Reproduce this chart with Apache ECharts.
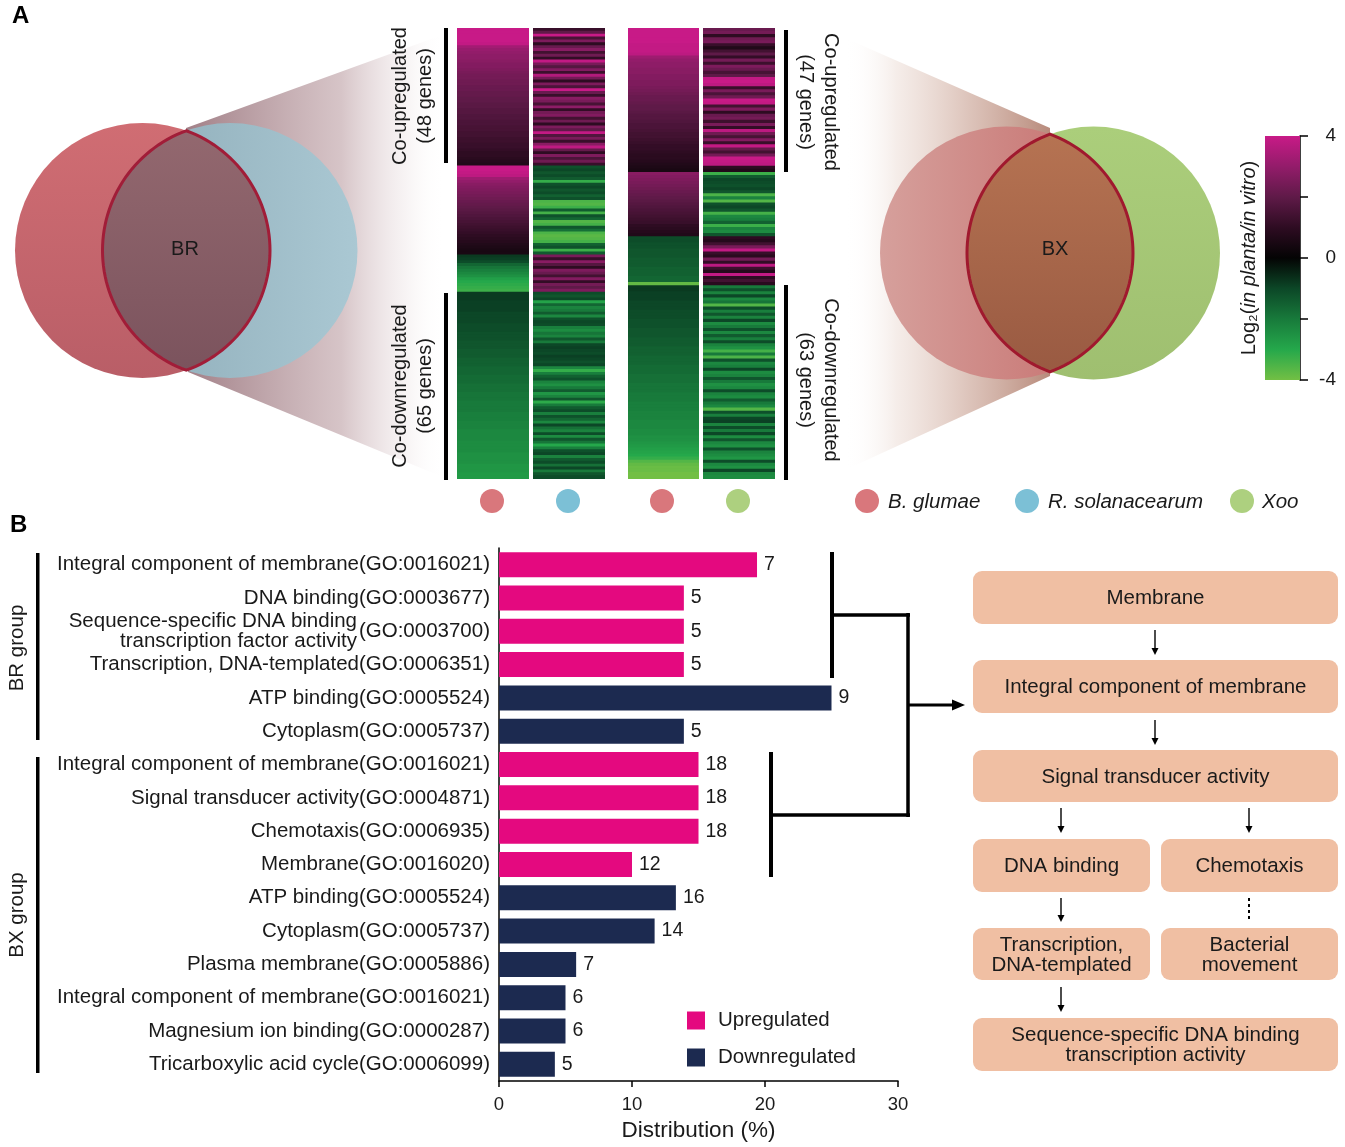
<!DOCTYPE html>
<html><head><meta charset="utf-8">
<script src="https://cdn.jsdelivr.net/npm/echarts@6/dist/echarts.min.js"></script>
<style>html,body{margin:0;padding:0;background:#fff}#c{width:1345px;height:1147px}</style>
</head><body><div id="c"></div>
<script>
// ---------------- DATA ----------------
// Heatmap rows, log2(in planta / in vitro). Segments: co-up | Bg up/other down | Bg down/other up | co-down
const brSegments = [48, 31, 13, 65];
const brGlumae = [
  4.3,4.2,4.1,4.0,4.0,3.9, 3.3,3.1,3.0,2.9,2.9,2.8,2.7,2.7,2.6, 2.5,2.4,2.4,2.3,2.3,2.2,2.2,2.1,2.1,2.0,
  2.0,1.9,1.9,1.8,1.8,1.7,1.7,1.6,1.6,1.5, 1.5,1.4,1.4,1.3,1.3,1.2,1.2,1.1,1.0,1.0, 0.9,0.8,0.7,
  4.2,4.0,3.9,3.8, 3.2,3.0,2.8,2.7,2.6,2.5, 2.4,2.3,2.2,2.1,2.0,1.9,1.8,1.7,1.6,1.5,
  1.4,1.3,1.2,1.1,1.0,0.9,0.8,0.7,0.6,0.5,0.5,
  -0.8,-0.9,-1.1,-1.6,-1.9,-2.1,-2.3,-2.5,-2.8,-3.0,-3.1,-3.2,-3.3,
  -0.8,-0.8,-0.8,-0.9,-0.9,-0.9,-0.9,-1.0,-1.0,-1.0, -1.0,-1.1,-1.1,-1.1,-1.2,-1.2,-1.2,-1.3,-1.3,-1.3,
  -1.4,-1.4,-1.4,-1.5,-1.5,-1.5,-1.6,-1.6,-1.6,-1.7, -1.7,-1.7,-1.8,-1.8,-1.8,-1.9,-1.9,-1.9,-2.0,-2.0,
  -2.0,-2.0,-2.1,-2.1,-2.1,-2.2,-2.2,-2.2,-2.3,-2.3, -2.3,-2.3,-2.4,-2.4,-2.4,-2.4,-2.5,-2.5,-2.5,-2.5,
  -2.6,-2.6,-2.6,-2.7,-2.7
];
const brRsol = [
  1.2,2.0,4.0,1.5,2.6,1.0,2.2,2.8,1.4,2.3, 1.1,3.9,2.5,1.8,2.7,1.3,3.6,2.4,1.0,2.6,
  1.6,4.0,2.2,1.2,2.8,2.5,1.5,2.9,1.1,2.4, 2.7,1.4,2.3,1.0,2.6,2.0,3.9,1.7,2.5,1.2,
  2.8,3.8,2.1,1.0,2.6,1.6,2.3,1.2,
  -1.2,-1.0,-1.3,-1.1,-1.4,-3.2,-1.2,-1.0,-1.3,-1.1, -1.5,-1.2,-3.5,-3.6,-3.3,-1.4,-3.4,-1.2,-1.6,-3.6,
  -3.4,-1.3,-1.8,-3.5,-3.7,-3.6,-3.4,-1.5,-1.2,-3.3,-1.4,
  2.5,1.2,2.8,1.8,1.0,2.6,2.2,1.4,2.7,1.1,2.4,2.0,2.6,
  -1.1,-1.3,-1.0,-2.9,-1.6,-2.2,-2.0,-1.4,-2.3,-1.2, -1.0,-1.1,-2.1,-2.4,-1.9,-2.2,-1.3,-2.0,-1.0,-0.9,
  -1.0,-1.1,-0.9,-1.0,-1.2,-1.0,-2.3,-3.2,-2.1,-1.5, -1.2,-2.2,-2.5,-2.0,-1.4,-2.6,-2.2,-1.3,-3.1,-2.0,
  -1.4,-1.1,-2.1,-1.2,-1.6,-2.3,-1.0,-1.8,-2.2,-1.1, -2.4,-1.3,-1.9,-3.0,-2.1,-1.2,-1.0,-2.2,-1.4,-1.1,
  -1.8,-1.0,-2.0,-1.3,-1.1
];
const bxSegments = [47, 21, 16, 63];
const bxGlumae = [
  4.2,4.1,4.1,4.0,4.0,3.9,3.9,3.9,3.8, 3.2,3.0,2.9,2.9,2.8,2.8,2.7,2.7,2.6,2.6,
  2.5,2.4,2.3,2.2,2.2,2.1,2.0,2.0,1.9,1.8, 1.8,1.7,1.6,1.6,1.5,1.4,1.4,1.3,1.2,1.1,
  1.1,1.0,0.9,0.9,0.8,0.7,0.6,0.5,
  2.8,2.7,2.6,2.5,2.4,2.3,2.2,2.1,2.0,1.9, 1.8,1.7,1.6,1.5,1.4,1.3,1.2,1.0,0.9,0.8,0.7,
  -1.1,-1.1,-1.2,-1.2,-1.3,-1.3,-1.3,-1.4,-1.4,-1.4,-1.5,-1.5,-1.5,-1.6,-1.6,-3.8,
  -0.8,-0.8,-0.9,-0.9,-0.9,-1.0,-1.0,-1.0,-1.1,-1.1, -1.1,-1.2,-1.2,-1.2,-1.3,-1.3,-1.3,-1.4,-1.4,-1.4,
  -1.5,-1.5,-1.5,-1.6,-1.6,-1.6,-1.7,-1.7,-1.7,-1.8, -1.8,-1.8,-1.9,-1.9,-1.9,-2.0,-2.0,-2.0,-2.1,-2.1,
  -2.1,-2.2,-2.2,-2.2,-2.3,-2.3,-2.3,-2.4,-2.4,-2.5, -2.5,-2.6,-2.7,-2.8,-2.9,-3.0,-3.2,-3.6,-3.8,-3.9,
  -3.9,-4.0,-4.0
];
const bxXoo = [
  2.2,2.4,1.0,2.3,2.5,1.2,0.7,1.4,2.0,1.1, 2.4,1.3,2.6,2.2,1.5,2.0,3.9,4.0,3.8,1.2,
  2.5,1.6,2.3,4.0,3.9,1.4,2.6,1.0,2.2,2.4, 1.3,2.5,1.1,3.8,2.3,1.5,2.7,1.2,3.9,2.1,
  1.4,2.4,4.0,3.9,3.8,1.0,0.7,
  -3.3,-1.4,-1.0,-1.1,-1.2,-1.0,-1.3,-3.5,-2.2,-3.6, -1.2,-1.0,-1.3,-3.4,-2.3,-2.1,-1.5,-3.3,-2.2,-2.4,-1.3,
  1.0,0.8,1.4,2.5,3.9,1.2,0.9,2.4,1.1,3.8,1.3,0.8,3.9,1.0,1.4,0.9,
  -2.0,-1.2,-2.2,-1.0,-2.3,-1.9,-3.6,-1.1,-2.1,-1.3, -2.2,-1.0,-2.4,-2.0,-1.2,-2.3,-1.4,-2.1,-1.1,-2.2,
  -2.5,-3.4,-2.0,-3.5,-1.2,-2.3,-2.1,-1.0,-2.4,-2.2, -1.3,-2.0,-2.5,-2.3,-1.1,-2.2,-2.4,-1.4,-2.0,-2.3,
  -3.6,-1.2,-2.1,-1.0,-0.9,-2.2,-1.1,-2.0,-1.0,-2.4, -1.3,-2.3,-2.5,-1.2,-2.2,-2.4,-2.6,-1.1,-2.3,-2.5,
  -1.0,-2.3,-2.4
];
const colorbarTicks = [4, 0, -4];

// GO enrichment bars
const goTerms = [
  'Integral component of membrane(GO:0016021)','DNA binding(GO:0003677)',
  'Sequence-specific DNA binding\ntranscription factor activity(GO:0003700)',
  'Transcription, DNA-templated(GO:0006351)','ATP binding(GO:0005524)','Cytoplasm(GO:0005737)',
  'Integral component of membrane(GO:0016021)','Signal transducer activity(GO:0004871)',
  'Chemotaxis(GO:0006935)','Membrane(GO:0016020)','ATP binding(GO:0005524)','Cytoplasm(GO:0005737)',
  'Plasma membrane(GO:0005886)','Integral component of membrane(GO:0016021)',
  'Magnesium ion binding(GO:0000287)','Tricarboxylic acid cycle(GO:0006099)'
];
const distribution = [19.4,13.9,13.9,13.9,25.0,13.9,15.0,15.0,15.0,10.0,13.3,11.7,5.8,5.0,5.0,4.2];
const geneCounts = [7,5,5,5,9,5,18,18,18,12,16,14,7,6,6,5];
const regulation = ['up','up','up','up','down','down','up','up','up','up','down','down','down','down','down','down'];
const xTicks = [0, 30, 10];

// flowchart
const flowBoxes = ['Membrane','Integral component of membrane','Signal transducer activity','DNA binding','Chemotaxis',
  'Transcription,\nDNA-templated','Bacterial\nmovement','Sequence-specific DNA binding\ntranscription activity'];

// ---------------- CHART ----------------
const F = "'Liberation Sans', Arial, Helvetica, sans-serif";
const TXT = '#1a1a1a';
const PINK = '#e4097f', NAVY = '#1c2a50';
const HM_COLORS = ['#72bf44','#25a84b','#187a3b','#0c4727','#040404','#2e0c22','#5f1a48','#931c6a','#c81a87'];

const chart = echarts.init(document.getElementById('c'), null, {width:1345, height:1147});

const hmCols = [
  {data: brGlumae, left: 457, width: 72},
  {data: brRsol,   left: 533, width: 72},
  {data: bxGlumae, left: 628, width: 71},
  {data: bxXoo,    left: 703, width: 72}
];
const grids = [], xAxes = [], yAxes = [], series = [];
function renderCell(params, api) {
  const c = api.coord([api.value(0), api.value(1)]);
  const s = api.size([1, 1]);
  return {type:'rect', shape:{x:c[0] - s[0] / 2, y:c[1] - s[1] / 2, width:s[0], height:s[1] + 0.9},
    style:{fill:api.visual('color')}};
}
hmCols.forEach((c, k) => {
  grids.push({left: c.left, top: 28, width: c.width, height: 450});
  xAxes.push({type:'category', gridIndex:k, data:['g'], show:false});
  yAxes.push({type:'category', gridIndex:k, data:c.data.map((_, i) => i), inverse:true, show:false});
  series.push({type:'custom', xAxisIndex:k, yAxisIndex:k, renderItem:renderCell, clip:false,
    data:c.data.map((v, i) => [0, i, v]), encode:{x:0, y:1}, silent:true});
});
// colorbar axis grid (4)
grids.push({left: 1265, top: 136, width: 35, height: 244});
xAxes.push({type:'category', gridIndex:4, data:['c'], show:false});
yAxes.push({type:'value', gridIndex:4, min:-4, max:4, interval:2, position:'right',
  axisLine:{show:true, lineStyle:{color:'#000', width:1.5}},
  axisTick:{show:true, length:8, lineStyle:{color:'#000', width:1.5}},
  splitLine:{show:false},
  axisLabel:{margin:36, align:'right', fontSize:19, fontFamily:F, color:TXT,
    formatter: v => colorbarTicks.indexOf(v) >= 0 ? String(v) : ''}});
// bar grid (5)
grids.push({left: 499, top: 548, width: 399, height: 533});
xAxes.push({type:'value', gridIndex:5, min:Math.min(...xTicks), max:Math.max(...xTicks), interval:10,
  axisLine:{show:true, lineStyle:{color:'#000', width:1.5}},
  axisTick:{show:true, length:6, lineStyle:{color:'#000', width:1.5}},
  splitLine:{show:false},
  axisLabel:{fontSize:18.5, fontFamily:F, color:TXT, margin:14},
  name:'Distribution (%)', nameLocation:'middle', nameGap:38,
  nameTextStyle:{fontSize:22.5, fontFamily:F, color:TXT}});
yAxes.push({type:'category', gridIndex:5, data:goTerms.map((_, i) => 'c' + i), inverse:true,
  axisLine:{show:true, lineStyle:{color:'#000', width:1.5}},
  axisTick:{show:false},
  axisLabel:{interval:0, fontSize:20.5, fontFamily:F, color:TXT, margin:9,
    formatter:(v, i) => {
      const t = goTerms[i];
      if (t.indexOf('\n') >= 0) {
        const head = t.slice(0, t.lastIndexOf('(')).split('\n');
        return head.map(s => '{a|' + s + '}').join('\n');
      }
      return t;
    },
    rich:{a:{fontSize:20.5, fontFamily:F, color:TXT, lineHeight:20, padding:[0,133,0,0]}}}});
series.push({type:'bar', name:'Upregulated', xAxisIndex:5, yAxisIndex:5, stack:'g', barWidth:25,
  itemStyle:{color:PINK},
  data: distribution.map((v, i) => regulation[i] === 'up' ? v : '-'),
  label:{show:true, position:'right', distance:7, fontSize:19.5, fontFamily:F, color:TXT,
    formatter: p => geneCounts[p.dataIndex]}});
series.push({type:'bar', name:'Downregulated', xAxisIndex:5, yAxisIndex:5, stack:'g', barWidth:25,
  itemStyle:{color:NAVY},
  data: distribution.map((v, i) => regulation[i] === 'down' ? v : '-'),
  label:{show:true, position:'right', distance:7, fontSize:19.5, fontFamily:F, color:TXT,
    formatter: p => geneCounts[p.dataIndex]}});

chart.setOption({
  animation:false,
  backgroundColor:'#fff',
  grid:grids, xAxis:xAxes, yAxis:yAxes, series:series,
  visualMap:{type:'continuous', min:-4, max:4, show:false, seriesIndex:[0,1,2,3], dimension:2,
    inRange:{color:HM_COLORS}},
  legend:{data:['Upregulated','Downregulated'], orient:'vertical', left:687, top:1010, padding:0,
    icon:'rect', itemWidth:18, itemHeight:18, itemGap:16, selectedMode:false,
    textStyle:{fontSize:20.5, fontFamily:F, color:TXT, padding:[0,0,0,8]}}
});

// ---------------- DECORATION ----------------
const G = echarts.graphic;
function T(x, y, text, o) {
  o = o || {};
  const font = (o.italic ? 'italic ' : '') + (o.bold ? 'bold ' : '') + (o.size || 20) + 'px ' + F;
  return {type:'text', x:x, y:y, rotation:o.rot || 0, z:100,
    style:{text:text, fill:o.color || TXT, font:font, align:o.align || 'center', verticalAlign:o.va || 'middle',
      textAlign:o.align || 'center', textVerticalAlign:o.va || 'middle', lineHeight:o.lh || 22, rich:o.rich}};
}
function L(x1, y1, x2, y2, w, dash) {
  return {type:'line', z:100, shape:{x1, y1, x2, y2}, style:{stroke:'#000', lineWidth:w || 1.4, lineDash:dash || null}};
}
function lensPts(c1x, c2x, cy, r) {
  const hd = (c2x - c1x) / 2, a = Math.acos(hd / r), pts = [], n = 60;
  for (let k = 0; k <= n; k++) { const t = -a + 2 * a * k / n; pts.push([c1x + r * Math.cos(t), cy + r * Math.sin(t)]); }
  for (let k = 0; k <= n; k++) { const t = Math.PI - a + 2 * a * k / n; pts.push([c2x + r * Math.cos(t), cy + r * Math.sin(t)]); }
  return pts;
}
const els = [];
// fans
els.push({type:'polygon', z:1, shape:{points:[[186,128],[445,34],[445,478],[188,372]]},
  style:{fill:new G.LinearGradient(0,0,1,0,[{offset:0,color:'rgba(130,85,95,0.75)'},{offset:0.6,color:'rgba(165,125,132,0.45)'},
    {offset:0.85,color:'rgba(205,180,184,0.15)'},{offset:1,color:'rgba(255,255,255,0)'}])}});
els.push({type:'polygon', z:1, shape:{points:[[1050,128],[845,38],[845,470],[1050,376]]},
  style:{fill:new G.LinearGradient(0,0,1,0,[{offset:0,color:'rgba(255,255,255,0)'},{offset:0.25,color:'rgba(200,155,135,0.18)'},
    {offset:0.6,color:'rgba(180,125,105,0.45)'},{offset:1,color:'rgba(160,100,80,0.75)'}])}});
// BR venn
els.push({type:'circle', z:2, shape:{cx:142.5, cy:250.5, r:127.5},
  style:{fill:new G.LinearGradient(0,0,0,1,[{offset:0,color:'#d06d73'},{offset:1,color:'#b95e67'}])}});
els.push({type:'circle', z:3, shape:{cx:230, cy:250.5, r:127.5},
  style:{fill:new G.LinearGradient(0,0,1,0,[{offset:0,color:'#8caab6'},{offset:1,color:'#aac8d3'}])}});
els.push({type:'polygon', z:4, shape:{points:lensPts(142.5, 230, 250.5, 127.5)},
  style:{fill:new G.LinearGradient(0,0,0,1,[{offset:0,color:'#93686f'},{offset:1,color:'#7b535d'}]), stroke:'#a11d38', lineWidth:3}});
els.push(T(185, 249, 'BR', {size:20}));
// BX venn
els.push({type:'circle', z:2, shape:{cx:1006.5, cy:253, r:126.5},
  style:{fill:new G.LinearGradient(0,0,1,0,[{offset:0,color:'#d6a09c'},{offset:1,color:'#c46a68'}])}});
els.push({type:'circle', z:3, shape:{cx:1093.5, cy:253, r:126.5},
  style:{fill:new G.LinearGradient(0,0,0,1,[{offset:0,color:'#abce7b'},{offset:1,color:'#9fbf70'}])}});
els.push({type:'polygon', z:4, shape:{points:lensPts(1006.5, 1093.5, 253, 126.5)},
  style:{fill:new G.LinearGradient(0,0,0,1,[{offset:0,color:'#b67352'},{offset:1,color:'#995a42'}]), stroke:'#a0192e', lineWidth:3}});
els.push(T(1055, 249, 'BX', {size:20}));
// panel letters
els.push(T(12, 16, 'A', {size:24, bold:true, align:'left', color:'#000'}));
els.push(T(10, 525, 'B', {size:24, bold:true, align:'left', color:'#000'}));
// heatmap side bars and labels
els.push({type:'rect', z:100, shape:{x:444, y:28, width:4, height:135}, style:{fill:'#000'}});
els.push({type:'rect', z:100, shape:{x:444, y:293, width:4, height:187}, style:{fill:'#000'}});
els.push({type:'rect', z:100, shape:{x:784, y:30, width:4, height:142}, style:{fill:'#000'}});
els.push({type:'rect', z:100, shape:{x:784, y:285, width:4, height:195}, style:{fill:'#000'}});
els.push(T(413, 96, 'Co-upregulated\n(48 genes)', {size:20, rot:Math.PI/2, lh:25}));
els.push(T(413, 386, 'Co-downregulated\n(65 genes)', {size:20, rot:Math.PI/2, lh:25}));
els.push(T(818, 102, 'Co-upregulated\n(47 genes)', {size:20, rot:-Math.PI/2, lh:25}));
els.push(T(818, 380, 'Co-downregulated\n(63 genes)', {size:20, rot:-Math.PI/2, lh:25}));
// species dots
const cRed = '#d9777c', cBlue = '#7cc0d6', cGreen = '#add07f';
[[492,cRed],[568,cBlue],[662,cRed],[738,cGreen],[867,cRed],[1027,cBlue],[1242,cGreen]].forEach(d =>
  els.push({type:'circle', z:100, shape:{cx:d[0], cy:501, r:12}, style:{fill:d[1]}}));
els.push(T(888, 502, 'B. glumae', {size:20.5, italic:true, align:'left'}));
els.push(T(1048, 502, 'R. solanacearum', {size:20.5, italic:true, align:'left'}));
els.push(T(1262, 502, 'Xoo', {size:20.5, italic:true, align:'left'}));
// colorbar
els.push({type:'rect', z:100, shape:{x:1265, y:136, width:35, height:244},
  style:{fill:new G.LinearGradient(0,0,0,1, HM_COLORS.slice().reverse().map((c, i) => ({offset:i / 8, color:c})))}});
els.push(T(1249, 258, '{n|Log₂(}{i|in planta/in vitro}{n|)}', {size:20, rot:Math.PI/2,
  rich:{n:{fontSize:20, fontFamily:F, fill:TXT}, i:{fontSize:20, fontFamily:F, fontStyle:'italic', fill:TXT}}}));
// group labels
els.push({type:'rect', z:100, shape:{x:36, y:553, width:3.5, height:187}, style:{fill:'#000'}});
els.push({type:'rect', z:100, shape:{x:36, y:757, width:3.5, height:316}, style:{fill:'#000'}});
els.push(T(17, 648, 'BR group', {size:20.5, rot:Math.PI/2}));
els.push(T(17, 915, 'BX group', {size:20.5, rot:Math.PI/2}));
// GO id for two-line label
const specialIdx = goTerms.findIndex(t => t.indexOf('\n') >= 0);
const py = chart.convertToPixel({gridIndex:5}, [0, specialIdx])[1];
const sp = goTerms[specialIdx];
els.push(T(490, py, sp.slice(sp.lastIndexOf('(')), {size:20.5, align:'right'}));
// brackets
els.push(L(832, 552, 832, 678, 4));
els.push(L(832, 615, 910, 615, 3.5));
els.push(L(908, 613, 908, 817, 3.5));
els.push(L(769, 815, 910, 815, 3.5));
els.push(L(771, 752, 771, 877, 4));
els.push(L(908, 705, 954, 705, 3));
els.push({type:'polygon', z:100, shape:{points:[[952,699.5],[965,705],[952,710.5]]}, style:{fill:'#000'}});
// flowchart
const boxPos = [[973,571,365,53],[973,660,365,53],[973,750,365,52],[973,839,177,53],[1161,839,177,53],
  [973,928,177,52],[1161,928,177,52],[973,1018,365,53]];
boxPos.forEach((b, i) => {
  els.push({type:'rect', z:100, shape:{x:b[0], y:b[1], width:b[2], height:b[3], r:9}, style:{fill:'#f0bfa3'}});
  els.push(T(b[0] + b[2] / 2, b[1] + b[3] / 2 + 1, flowBoxes[i], {size:20.5, lh:20}));
});
function arrow(x, y1, y2) {
  els.push(L(x, y1, x, y2 - 5, 1.4));
  els.push({type:'polygon', z:100, shape:{points:[[x - 3.5, y2 - 7],[x + 3.5, y2 - 7],[x, y2]]}, style:{fill:'#000'}});
}
arrow(1155, 630, 655); arrow(1155, 720, 745); arrow(1061, 808, 833); arrow(1249, 808, 833);
arrow(1061, 898, 922); arrow(1061, 987, 1012);
els.push(L(1249, 898, 1249, 922, 2, [3, 3]));

chart.setOption({graphic:{elements:els}});
</script></body></html>
